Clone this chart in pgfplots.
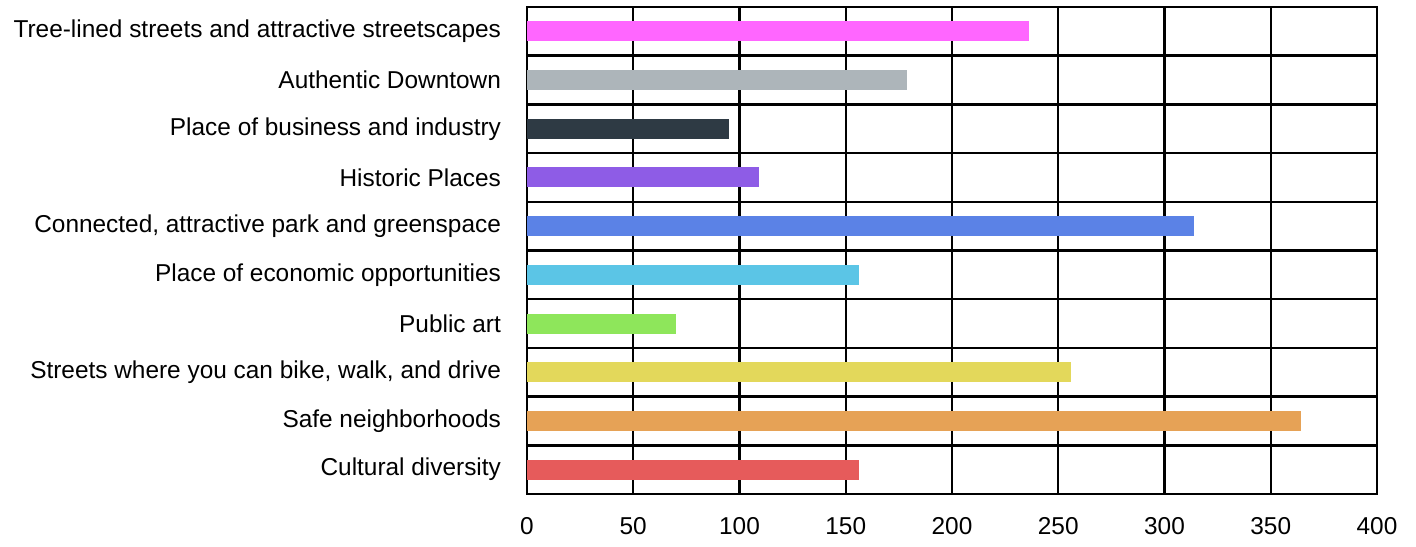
\documentclass[border=0pt]{standalone}
\usepackage{pgfplots}
\pgfplotsset{compat=1.18}
\usepackage{fontspec}
\setmainfont{Liberation Sans}
\definecolor{cPink}{HTML}{FF66FF}
\definecolor{cGray}{HTML}{ADB5BA}
\definecolor{cDark}{HTML}{2E3A44}
\definecolor{cPurple}{HTML}{8E5CE6}
\definecolor{cBlue}{HTML}{5B82E6}
\definecolor{cCyan}{HTML}{5BC5E6}
\definecolor{cGreen}{HTML}{8EE65B}
\definecolor{cYellow}{HTML}{E3D85B}
\definecolor{cOrange}{HTML}{E6A256}
\definecolor{cRed}{HTML}{E65B5B}
\begin{document}
\begin{tikzpicture}
\begin{axis}[
  scale only axis,
  width=425pt, height=243.5pt,
  xbar, bar width=10pt, bar shift=0pt,
  xmin=0, xmax=400, ymin=-0.5, ymax=9.5,
  xtick={0,50,...,400},
  ytick={0,...,9},
  yticklabels={Cultural diversity, Safe neighborhoods, {Streets where you can bike, walk, and drive}, Public art, Place of economic opportunities, {Connected, attractive park and greenspace}, Historic Places, Place of business and industry, Authentic Downtown, Tree-lined streets and attractive streetscapes},
  minor ytick={0.5,1.5,...,8.5},
  xmajorgrids, yminorgrids,
  major grid style={black, line width=1.2pt},
  minor grid style={black, line width=1.2pt},
  axis line style={black, line width=1.2pt},
  major tick length=0pt, minor tick length=0pt,
  tick style={draw=none},
  tick label style={font=\fontsize{12.2}{14}\selectfont},
  /pgf/number format/assume math mode=true,
  xticklabel style={yshift=-8pt},
  yticklabel style={xshift=-9.5pt},
]
\addplot[fill=cRed, draw=none] coordinates {(156,0)};
\addplot[fill=cOrange, draw=none] coordinates {(364,1)};
\addplot[fill=cYellow, draw=none] coordinates {(256,2)};
\addplot[fill=cGreen, draw=none] coordinates {(70,3)};
\addplot[fill=cCyan, draw=none] coordinates {(156,4)};
\addplot[fill=cBlue, draw=none] coordinates {(314,5)};
\addplot[fill=cPurple, draw=none] coordinates {(109,6)};
\addplot[fill=cDark, draw=none] coordinates {(95,7)};
\addplot[fill=cGray, draw=none] coordinates {(179,8)};
\addplot[fill=cPink, draw=none] coordinates {(236,9)};
\end{axis}
\path ([xshift=-263.5pt,yshift=-26pt]current axis.south west) rectangle ([xshift=19.5pt,yshift=3.5pt]current axis.north east);
\end{tikzpicture}
\end{document}
